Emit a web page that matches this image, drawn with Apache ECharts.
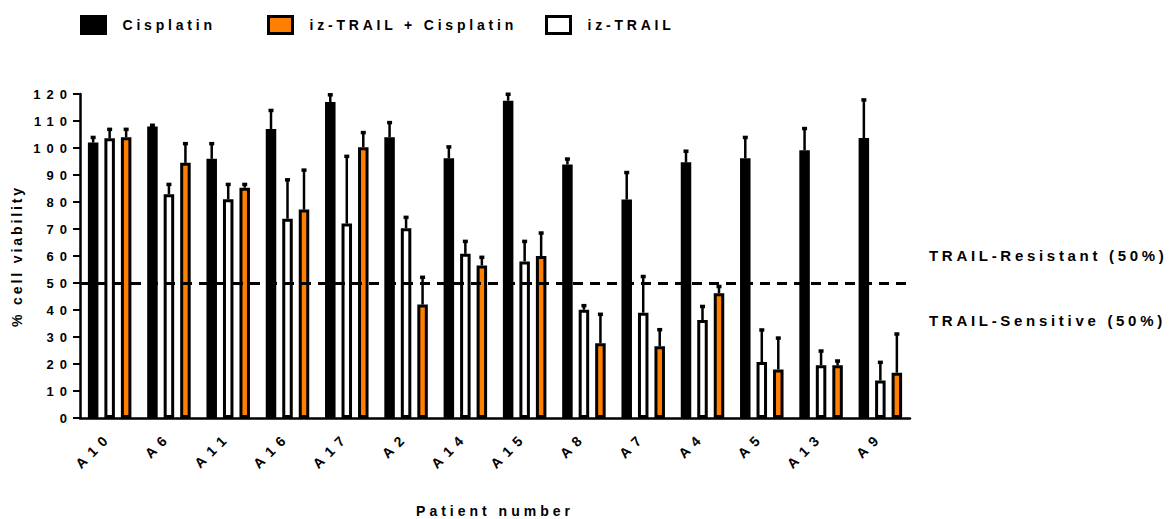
<!DOCTYPE html>
<html>
<head>
<meta charset="utf-8">
<script src="https://cdn.jsdelivr.net/npm/echarts@6/dist/echarts.min.js"></script>
<style>
  html, body { margin: 0; padding: 0; background: #fff; }
  #chart { width: 1175px; height: 519px; }
  /* Prism-style wide tracking, keyed on the font family tag of each text group */
  #chart text[style*="fLeg"] { letter-spacing: 3.8px; }
  #chart text[style*="fYT"]  { letter-spacing: 6px; }
  #chart text[style*="fXT"]  { letter-spacing: 6.5px; }
  #chart text[style*="fYN"]  { letter-spacing: 2.9px; }
  #chart text[style*="fXN"]  { letter-spacing: 4px; }
  #chart text[style*="fRt"]  { letter-spacing: 3.7px; }
</style>
</head>
<body>
<div id="chart"></div>
<script>
// Patients, in plotted order
const categories = ['A10', 'A6', 'A11', 'A16', 'A17', 'A2', 'A14', 'A15', 'A8', 'A7', 'A4', 'A5', 'A13', 'A9'];

// % cell viability (mean) and upper error bar size per treatment
const cisplatin     = [102, 108, 96, 107, 117, 104, 96.2, 117.5, 93.9, 80.9, 94.7, 96.2, 99.2, 103.7];
const cisplatinErr  = [2, 0.5, 5.7, 7, 2.8, 5.5, 4.3, 2.5, 2.1, 10.1, 4.2, 7.8, 8.1, 14.2];
const izTrail       = [103.6, 82.9, 81, 73.8, 72, 70.3, 60.8, 58, 40.1, 39, 36.3, 20.7, 19.5, 13.9];
const izTrailErr    = [3.4, 3.7, 5.6, 14.5, 25, 4.1, 4.7, 7.5, 1.6, 13.5, 5.1, 12, 5.4, 6.8];
const combo         = [104, 94.5, 85.3, 77.2, 100.3, 42, 56.5, 60, 27.7, 26.6, 46.2, 18, 19.5, 16.8];
const comboErr      = [3, 7.2, 1.3, 14.7, 5.5, 10.2, 3.1, 8.6, 10.8, 6.2, 2.6, 11.7, 1.7, 14.4];

// Resistance cut-off
const threshold = 50;

const FONT = '"Liberation Sans", Arial';
const ORANGE = '#ff8000';
const BAR_W = 10.5;
const BORDER = 3;
const BAR_STEP = 16.5; // centre-to-centre distance of bars in a group
const BAR_GAP = ((BAR_STEP - BAR_W) / BAR_W * 100) + '%';

function errorBars(means, errs, offset) {
  return {
    type: 'custom',
    z: 3,
    silent: true,
    data: means.map((m, i) => [i, m, errs[i]]),
    encode: { x: 0, y: 1 },
    renderItem: function (params, api) {
      const i = api.value(0), m = api.value(1), e = api.value(2);
      const base = api.coord([i, m]);
      const top = api.coord([i, m + e]);
      const x = base[0] + offset;
      return {
        type: 'group',
        children: [
          { type: 'line', shape: { x1: x, y1: base[1], x2: x, y2: top[1] },
            style: { stroke: '#000', lineWidth: 2.5 } },
          { type: 'rect', shape: { x: x - 2.5, y: top[1] - 1.5, width: 5, height: 3.5 },
            style: { fill: '#000' } }
        ]
      };
    }
  };
}

const legendText = { color: '#000', fontWeight: 'bold', fontSize: 14, fontFamily: FONT + ', fLeg', padding: [0, 0, 0, 12] };
function legendAt(name, left) {
  return {
    data: [name], left: left, top: 15, padding: 0,
    icon: 'rect', itemWidth: 24, itemHeight: 17,
    selectedMode: false, textStyle: legendText,
    itemStyle: { borderColor: '#000', borderWidth: BORDER }
  };
}

const chart = echarts.init(document.getElementById('chart'), null, { renderer: 'svg' });
chart.setOption({
  animation: false,
  backgroundColor: '#fff',
  legend: [
    legendAt('Cisplatin', 80),
    legendAt('iz-TRAIL + Cisplatin', 267),
    legendAt('iz-TRAIL', 545)
  ],
  grid: { left: 80, right: 265, top: 94, bottom: 101, containLabel: false, outerBoundsMode: 'none' },
  xAxis: {
    type: 'category',
    data: categories,
    name: 'Patient number',
    nameLocation: 'middle',
    nameGap: 86,
    nameTextStyle: { color: '#000', fontWeight: 'bold', fontSize: 14, fontFamily: FONT + ', fXN' },
    axisLine: { lineStyle: { color: '#000', width: 2.5 } },
    axisTick: { alignWithLabel: true, length: 6, lineStyle: { color: '#000', width: 2 } },
    axisLabel: { interval: 0, rotate: 45, margin: 16, color: '#000', fontWeight: 'bold', fontSize: 14, fontFamily: FONT + ', fXT' }
  },
  yAxis: {
    type: 'value',
    min: 0, max: 120, interval: 10,
    name: '% cell viability',
    nameLocation: 'middle',
    nameRotate: 90,
    nameGap: 56,
    nameTextStyle: { color: '#000', fontWeight: 'bold', fontSize: 14, fontFamily: FONT + ', fYN' },
    splitLine: { show: false },
    axisLine: { show: true, lineStyle: { color: '#000', width: 2.5 } },
    axisTick: { show: true, length: 7, lineStyle: { color: '#000', width: 2 } },
    axisLabel: { margin: 7, color: '#000', fontWeight: 'bold', fontSize: 13, fontFamily: FONT + ', fYT' }
  },
  graphic: [
    { type: 'text', x: 929, y: 255, silent: true,
      style: { text: 'TRAIL-Resistant (' + threshold + '%)', fill: '#000', font: 'bold 15px ' + FONT + ', fRt', verticalAlign: 'middle' } },
    { type: 'text', x: 929, y: 320, silent: true,
      style: { text: 'TRAIL-Sensitive (' + threshold + '%)', fill: '#000', font: 'bold 15px ' + FONT + ', fRt', verticalAlign: 'middle' } }
  ],
  series: [
    { name: 'Cisplatin', type: 'bar', data: cisplatin, barWidth: BAR_W, barGap: BAR_GAP,
      itemStyle: { color: '#000', borderColor: '#000', borderWidth: BORDER } },
    { name: 'iz-TRAIL', type: 'bar', data: izTrail, barWidth: BAR_W, barGap: BAR_GAP,
      itemStyle: { color: '#fff', borderColor: '#000', borderWidth: BORDER } },
    { name: 'iz-TRAIL + Cisplatin', type: 'bar', data: combo, barWidth: BAR_W, barGap: BAR_GAP,
      itemStyle: { color: ORANGE, borderColor: '#000', borderWidth: BORDER } },
    errorBars(cisplatin, cisplatinErr, -BAR_STEP),
    errorBars(izTrail, izTrailErr, 0),
    errorBars(combo, comboErr, BAR_STEP),
    { type: 'line', data: [], z: 5, silent: true,
      markLine: {
        silent: true, symbol: ['none', 'none'], label: { show: false },
        lineStyle: { color: '#000', width: 3, type: [10, 7] },
        data: [{ yAxis: threshold }]
      } }
  ]
});
</script>
</body>
</html>
